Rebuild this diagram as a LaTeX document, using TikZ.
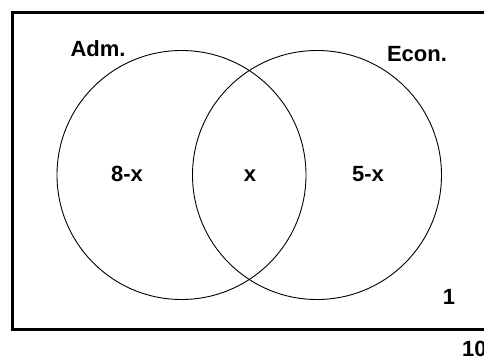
\documentclass[tikz,border=0pt]{standalone}
\usepackage{fontspec}
\setmainfont{Liberation Sans}
\usetikzlibrary{positioning}

\begin{document}
\begin{tikzpicture}[
  x=1pt, y=-1pt,
  font=\fontsize{22}{26}\selectfont\bfseries,
  set/.style={draw=black, line width=0.9pt},
  frame/.style={draw=black, line width=3pt},
  lbl/.style={inner sep=0pt, anchor=base}
]
\useasboundingbox (0,0) rectangle (484,358);
\clip (0,0) rectangle (484,358);

% universe
\draw[frame] (12,13) rectangle (492,329);

% sets
\draw[set] (181.5,175) circle (124.5);
\draw[set] (317,175) circle (124.5);

% set names
\node[lbl] (adm) at (98,57) {Adm.};
\node[lbl] (econ) at (417,62) {Econ.};

% counts
\node[lbl] (onlyadm) at (127,182) {8-x};
\node[lbl] (both) at (250,182) {x};
\node[lbl] (onlyecon) at (368,182) {5-x};
\node[lbl] (neither) at (449,304) {1};
\node[lbl, anchor=base west] (total) at (462,356) {10};

\end{tikzpicture}
\end{document}
